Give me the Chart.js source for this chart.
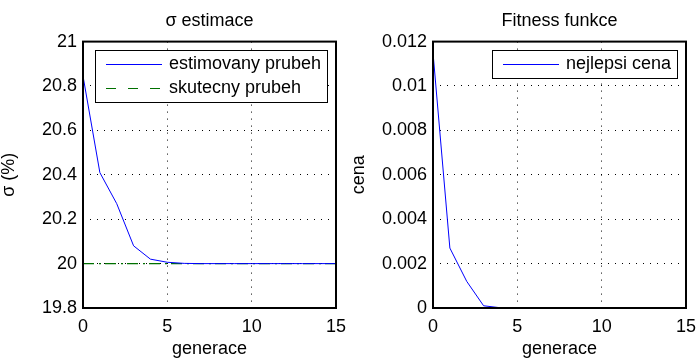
<!DOCTYPE html>
<html lang="cs">
<head>
<meta charset="UTF-8">
<title>σ estimace / Fitness funkce</title>
<script src="https://cdn.jsdelivr.net/npm/chart.js"></script>
<style>
  body { margin: 0; background: #fff; }
  #wrap { display: flex; width: 699px; height: 360px; }
  canvas { display: block; }
</style>
</head>
<body>
<div id="wrap">
  <canvas id="sigmaChart" width="350" height="360"></canvas>
  <canvas id="fitnessChart" width="349" height="360"></canvas>
</div>
<script>
// data per generation
const generace = [0, 1, 2, 3, 4, 5, 6, 7, 8, 9, 10, 11, 12, 13, 14, 15];
const sigmaOdhad = [20.845, 20.41, 20.27, 20.08, 20.02, 20.006, 20.001, 20, 20, 20, 20, 20, 20, 20, 20, 20];
const sigmaSkutecna = [20, 20, 20, 20, 20, 20, 20, 20, 20, 20, 20, 20, 20, 20, 20, 20];
const nejlepsiCena = [0.0115, 0.0027, 0.0012, 0.0001, 0.00001, 0, 0, 0, 0, 0, 0, 0, 0, 0, 0, 0];

const xTicks = [0, 5, 10, 15];
const sigmaTicks = [19.8, 20, 20.2, 20.4, 20.6, 20.8, 21];
const cenaTicks = [0, 0.002, 0.004, 0.006, 0.008, 0.01, 0.012];

const FONT = '"Liberation Sans", Arial, sans-serif';
Chart.defaults.font.family = FONT;
Chart.defaults.font.size = 18;
Chart.defaults.color = '#000';

const pts = ys => generace.map((g, i) => ({ x: g, y: ys[i] }));

// keep the title centred over the plot area, not the whole canvas
const titleOverPlot = {
  id: 'titleOverPlot',
  afterLayout(chart) {
    if (chart.titleBlock) {
      chart.titleBlock.left = chart.chartArea.left;
      chart.titleBlock.right = chart.chartArea.right;
    }
  }
};

// box around the plot area
const frame = {
  id: 'frame',
  afterDatasetsDraw(chart) {
    const { ctx, chartArea: a } = chart;
    ctx.save();
    ctx.strokeStyle = '#000';
    ctx.lineWidth = 2;
    ctx.strokeRect(a.left, a.top, a.right - a.left, a.bottom - a.top);
    ctx.restore();
  }
};

// framed legend in the top right corner of the plot
const boxLegend = {
  id: 'boxLegend',
  afterDraw(chart) {
    const { ctx, chartArea: a } = chart;
    const sets = chart.data.datasets;
    ctx.save();
    ctx.font = '18px ' + FONT;
    const textW = Math.max(...sets.map(d => ctx.measureText(d.label).width));
    const padL = 11, lineLen = 56, gap = 7, padR = 6, rowH = 24;
    const w = Math.round(padL + lineLen + gap + textW + padR);
    const h = rowH * (sets.length - 1) + 28;
    const x = Math.round(a.right - 9 - w), y = Math.round(a.top + 8);
    ctx.fillStyle = '#fff';
    ctx.fillRect(x, y, w, h);
    ctx.strokeStyle = '#000';
    ctx.lineWidth = 1;
    ctx.strokeRect(x + 0.5, y + 0.5, w, h);
    sets.forEach((d, i) => {
      const cy = y + 14 + i * rowH;
      ctx.strokeStyle = d.borderColor;
      ctx.lineWidth = 1;
      ctx.setLineDash(d.legendDash || []);
      ctx.beginPath();
      ctx.moveTo(x + padL, cy + 0.5);
      ctx.lineTo(x + padL + lineLen, cy + 0.5);
      ctx.stroke();
      ctx.setLineDash([]);
      ctx.fillStyle = '#000';
      ctx.textBaseline = 'middle';
      ctx.textAlign = 'left';
      ctx.fillText(d.label, x + padL + lineLen + gap, cy);
    });
    ctx.restore();
  }
};

function makeOptions(title, yLabel, yTicks, padRight) {
  return {
    responsive: false,
    animation: false,
    layout: { padding: { left: 0, right: padRight, top: 0, bottom: 0 } },
    plugins: {
      legend: { display: false },
      tooltip: { enabled: false },
      title: {
        display: true,
        text: title,
        font: { size: 18, weight: 'normal', lineHeight: 1.2 },
        color: '#000',
        padding: { top: 10, bottom: 10 }
      }
    },
    scales: {
      x: {
        type: 'linear',
        min: 0,
        max: 15,
        afterBuildTicks: s => { s.ticks = xTicks.map(v => ({ value: v })); },
        afterFit: s => { s.height = 52; s.paddingLeft = 0; s.paddingRight = 0; },
        ticks: { padding: 8, maxRotation: 0, callback: v => String(v) },
        grid: { color: '#000', lineWidth: 1, drawTicks: false },
        border: { display: false, dash: [1, 6] },
        title: { display: true, text: 'generace', font: { size: 18, lineHeight: 1.2 }, padding: { top: 0, bottom: 0 } }
      },
      y: {
        type: 'linear',
        min: yTicks[0],
        max: yTicks[yTicks.length - 1],
        afterBuildTicks: s => { s.ticks = yTicks.map(v => ({ value: v })); },
        afterFit: s => { s.width = 83; s.paddingTop = 0; s.paddingBottom = 0; },
        ticks: { padding: 6, callback: v => String(v) },
        grid: { color: '#000', lineWidth: 1, drawTicks: false },
        border: { display: false, dash: [1, 6] },
        title: { display: true, text: yLabel, font: { size: 18, lineHeight: 1 }, padding: { top: 0, bottom: 0 } }
      }
    }
  };
}

new Chart(document.getElementById('sigmaChart'), {
  type: 'line',
  data: {
    datasets: [{
      label: 'estimovany prubeh',
      data: pts(sigmaOdhad),
      borderColor: '#0000ff',
      borderWidth: 1,
      pointRadius: 0,
      tension: 0
    }, {
      label: 'skutecny prubeh',
      data: pts(sigmaSkutecna),
      borderColor: '#007000',
      borderWidth: 1.3,
      borderDash: [11, 5, 2, 4],
      legendDash: [10, 12],
      pointRadius: 0,
      tension: 0
    }]
  },
  options: makeOptions('σ estimace', 'σ (%)', sigmaTicks, 14),
  plugins: [titleOverPlot, frame, boxLegend]
});

new Chart(document.getElementById('fitnessChart'), {
  type: 'line',
  data: {
    datasets: [{
      label: 'nejlepsi cena',
      data: pts(nejlepsiCena),
      borderColor: '#0000ff',
      borderWidth: 1,
      pointRadius: 0,
      tension: 0
    }]
  },
  options: makeOptions('Fitness funkce', 'cena', cenaTicks, 13),
  plugins: [titleOverPlot, frame, boxLegend]
});
</script>
</body>
</html>
